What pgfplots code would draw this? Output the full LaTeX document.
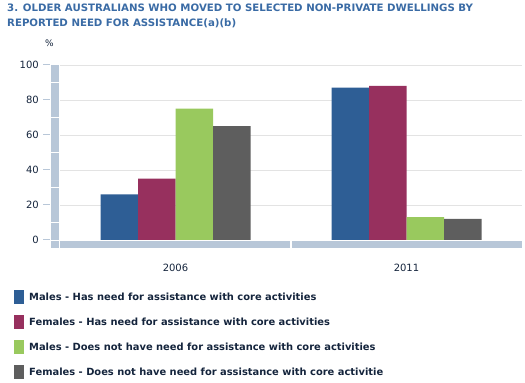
\documentclass[border=0pt]{standalone}
\usepackage{fontspec}
\setmainfont{DejaVu Sans}
\usepackage{pgfplots}
\pgfplotsset{compat=1.18}
\definecolor{cA}{HTML}{2E5E95}
\definecolor{cB}{HTML}{97305E}
\definecolor{cC}{HTML}{99C95E}
\definecolor{cD}{HTML}{5E5E5E}
\definecolor{wall}{HTML}{B8C7D8}
\definecolor{titleblue}{HTML}{3A6BA5}
\definecolor{txt}{HTML}{14243C}
\definecolor{gridc}{HTML}{E3E3E3}
\begin{document}
\begin{tikzpicture}[x=1pt,y=1pt]
\path[use as bounding box] (0,0) rectangle (525,383);
% title
\node[anchor=base west, inner sep=0, text=titleblue, font=\fontsize{10.2}{12}\selectfont\bfseries] at (7,371) {3. OLDER AUSTRALIANS WHO MOVED TO SELECTED NON-PRIVATE DWELLINGS BY};
\node[anchor=base west, inner sep=0, text=titleblue, font=\fontsize{10.2}{12}\selectfont\bfseries] at (7,356) {REPORTED NEED FOR ASSISTANCE(a)(b)};
\node[anchor=base west, inner sep=0, text=txt, font=\fontsize{9}{11}\selectfont] at (45,336) {\%};
% wall and floor
\fill[wall] (51,135) rectangle (59,318);
\foreach \v in {0,10,30,50,70,90} {\draw[white, line width=1pt] (50,{143+1.75*\v-0.5}) -- (60,{143+1.75*\v-0.5});}
\foreach \v in {0,20,40,60,80,100} {\draw[wall, line width=1pt] (43,{143+1.75*\v}) -- (50,{143+1.75*\v});}
\fill[wall] (60,135) rectangle (290,142);
\fill[wall] (292,135) rectangle (522,142);
\begin{axis}[
  at={(60pt,143pt)}, anchor=south west,
  scale only axis, width=462pt, height=175pt,
  xmin=-0.5, xmax=1.5, ymin=0, ymax=100,
  ytick={20,40,60,80,100},
  extra y ticks={0}, extra y tick style={grid=none},
  xtick={0,1}, xticklabels={2006,2011},
  ymajorgrids, grid style={gridc, line width=0.8pt},
  major tick length=0pt,
  axis line style={draw=none},
  tick label style={font=\fontsize{10}{12}\selectfont, text=txt},
  /pgf/number format/assume math mode=true,
  yticklabel style={inner sep=0pt, anchor=east, xshift=-21pt},
  xticklabel style={inner sep=0pt, anchor=north, yshift=-24pt},
  ybar=0pt, bar width=37.5pt,
  clip=false,
]
\addplot[fill=cA, draw=none] coordinates {(0,26) (1,87)};
\addplot[fill=cB, draw=none] coordinates {(0,35) (1,88)};
\addplot[fill=cC, draw=none] coordinates {(0,75) (1,13)};
\addplot[fill=cD, draw=none] coordinates {(0,65) (1,12)};
\end{axis}
% legend
\foreach \c/\t [count=\i] in {cA/Males - Has need for assistance with core activities,
  cB/Females - Has need for assistance with core activities,
  cC/Males - Does not have need for assistance with core activities,
  cD/Females - Does not have need for assistance with core activitie} {
  \fill[\c] (14,{93-25*(\i-1)-14}) rectangle (24,{93-25*(\i-1)});
  \node[anchor=base west, inner sep=0, text=txt, font=\fontsize{9.9}{11}\selectfont\bfseries] at (29,{93-25*(\i-1)-10.5}) {\t};
}
\end{tikzpicture}
\end{document}
